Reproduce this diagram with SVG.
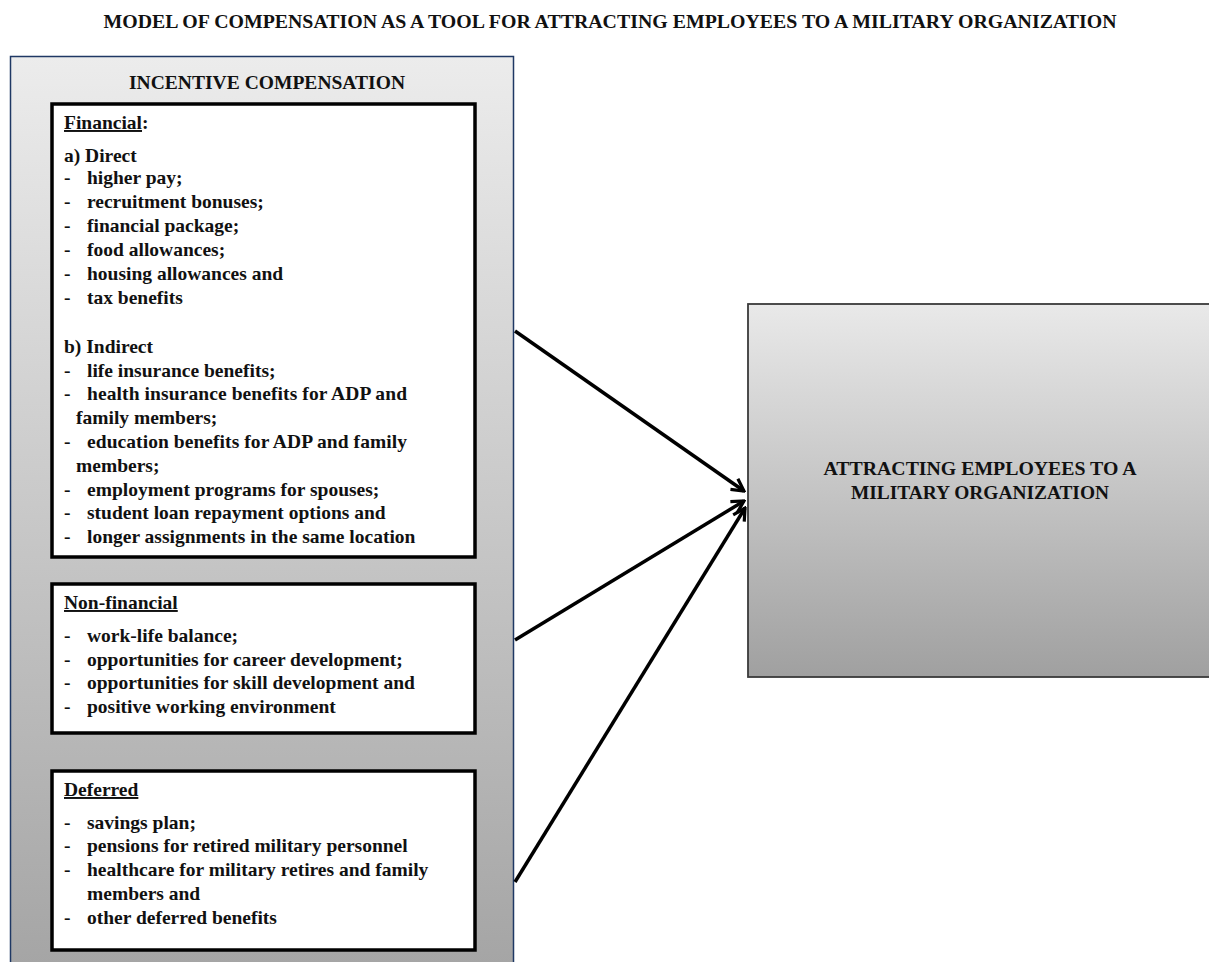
<svg xmlns="http://www.w3.org/2000/svg" width="1209" height="962" viewBox="0 0 1209 962">
<defs>
<linearGradient id="gOuter" x1="0" y1="0" x2="0" y2="1">
<stop offset="0" stop-color="#ececec"/>
<stop offset="1" stop-color="#a4a4a4"/>
</linearGradient>
<linearGradient id="gRight" x1="0" y1="0" x2="0" y2="1">
<stop offset="0" stop-color="#e9e9e9"/>
<stop offset="1" stop-color="#a0a0a0"/>
</linearGradient>
<marker id="arr" viewBox="0 0 16 16" refX="14" refY="8" markerWidth="16" markerHeight="16" markerUnits="userSpaceOnUse" orient="auto">
<path d="M2,1.5 L14,8 L2,14.5" fill="none" stroke="#000" stroke-width="3.2" stroke-linejoin="miter"/>
</marker>
</defs>
<style>
text{font-family:"Liberation Serif","Times New Roman",serif;font-weight:bold;font-size:19.5px;fill:#111;}
.u{text-decoration:underline;}
.c{text-anchor:middle;}
.box{fill:#fff;stroke:#000;stroke-width:3.5;}
.conn{stroke:#000;stroke-width:3.5;fill:none;marker-end:url(#arr);}
</style>
<rect width="1209" height="962" fill="#fff"/>
<text x="610" y="28" class="c" textLength="1013" lengthAdjust="spacingAndGlyphs">MODEL OF COMPENSATION AS A TOOL FOR ATTRACTING EMPLOYEES TO A MILITARY ORGANIZATION</text>

<g id="incentive-compensation">
<rect x="10.5" y="56.5" width="503" height="920" fill="url(#gOuter)" stroke="#1f3864" stroke-width="1.5"/>
<text x="267" y="89" class="c" textLength="276" lengthAdjust="spacingAndGlyphs">INCENTIVE COMPENSATION</text>
</g>

<g id="financial">
<rect x="52" y="104" width="423" height="453" class="box"/>
<text x="64" y="129"><tspan class="u">Financial</tspan>:</text>
<text x="64" y="162">a) Direct</text>
<text x="64" y="184">-</text><text x="87" y="184">higher pay;</text>
<text x="64" y="208">-</text><text x="87" y="208">recruitment  bonuses;</text>
<text x="64" y="232">-</text><text x="87" y="232">financial  package;</text>
<text x="64" y="256">-</text><text x="87" y="256">food allowances;</text>
<text x="64" y="280">-</text><text x="87" y="280">housing allowances and</text>
<text x="64" y="304">-</text><text x="87" y="304">tax benefits</text>
<text x="64" y="353">b) Indirect</text>
<text x="64" y="377">-</text><text x="87" y="377">life insurance  benefits;</text>
<text x="64" y="400">-</text><text x="87" y="400" textLength="320" lengthAdjust="spacing">health insurance benefits for ADP and</text>
<text x="76" y="424">family  members;</text>
<text x="64" y="448">-</text><text x="87" y="448" textLength="320" lengthAdjust="spacing">education benefits for ADP and family</text>
<text x="76" y="472">members;</text>
<text x="64" y="496">-</text><text x="87" y="496">employment programs  for spouses;</text>
<text x="64" y="519">-</text><text x="87" y="519">student loan repayment options and</text>
<text x="64" y="543">-</text><text x="87" y="543">longer assignments in the same location</text>
</g>

<g id="non-financial">
<rect x="52" y="584" width="423" height="149" class="box"/>
<text x="64" y="609" class="u">Non-financial</text>
<text x="64" y="642">-</text><text x="87" y="642">work-life  balance;</text>
<text x="64" y="666">-</text><text x="87" y="666">opportunities  for  career development;</text>
<text x="64" y="689">-</text><text x="87" y="689">opportunities  for skill development  and</text>
<text x="64" y="713">-</text><text x="87" y="713">positive working  environment</text>
</g>

<g id="deferred">
<rect x="52" y="771" width="423" height="179" class="box"/>
<text x="64" y="796" class="u">Deferred</text>
<text x="64" y="829">-</text><text x="87" y="829">savings plan;</text>
<text x="64" y="852">-</text><text x="87" y="852">pensions for retired military  personnel</text>
<text x="64" y="876">-</text><text x="87" y="876">healthcare  for military  retires and family</text>
<text x="87" y="900">members and</text>
<text x="64" y="924">-</text><text x="87" y="924">other deferred benefits</text>
</g>

<g id="attracting-employees">
<rect x="748" y="304" width="480" height="373" fill="url(#gRight)" stroke="#3a3a3a" stroke-width="1.8"/>
<text x="980" y="475" class="c" textLength="313" lengthAdjust="spacingAndGlyphs">ATTRACTING  EMPLOYEES  TO A</text>
<text x="980" y="499" class="c" textLength="258" lengthAdjust="spacingAndGlyphs">MILITARY  ORGANIZATION</text>
</g>

<g id="connectors">
<line x1="515" y1="331" x2="744" y2="491" class="conn"/>
<line x1="515" y1="640" x2="744" y2="501" class="conn"/>
<line x1="515" y1="882" x2="745" y2="508" class="conn"/>
</g>
</svg>
